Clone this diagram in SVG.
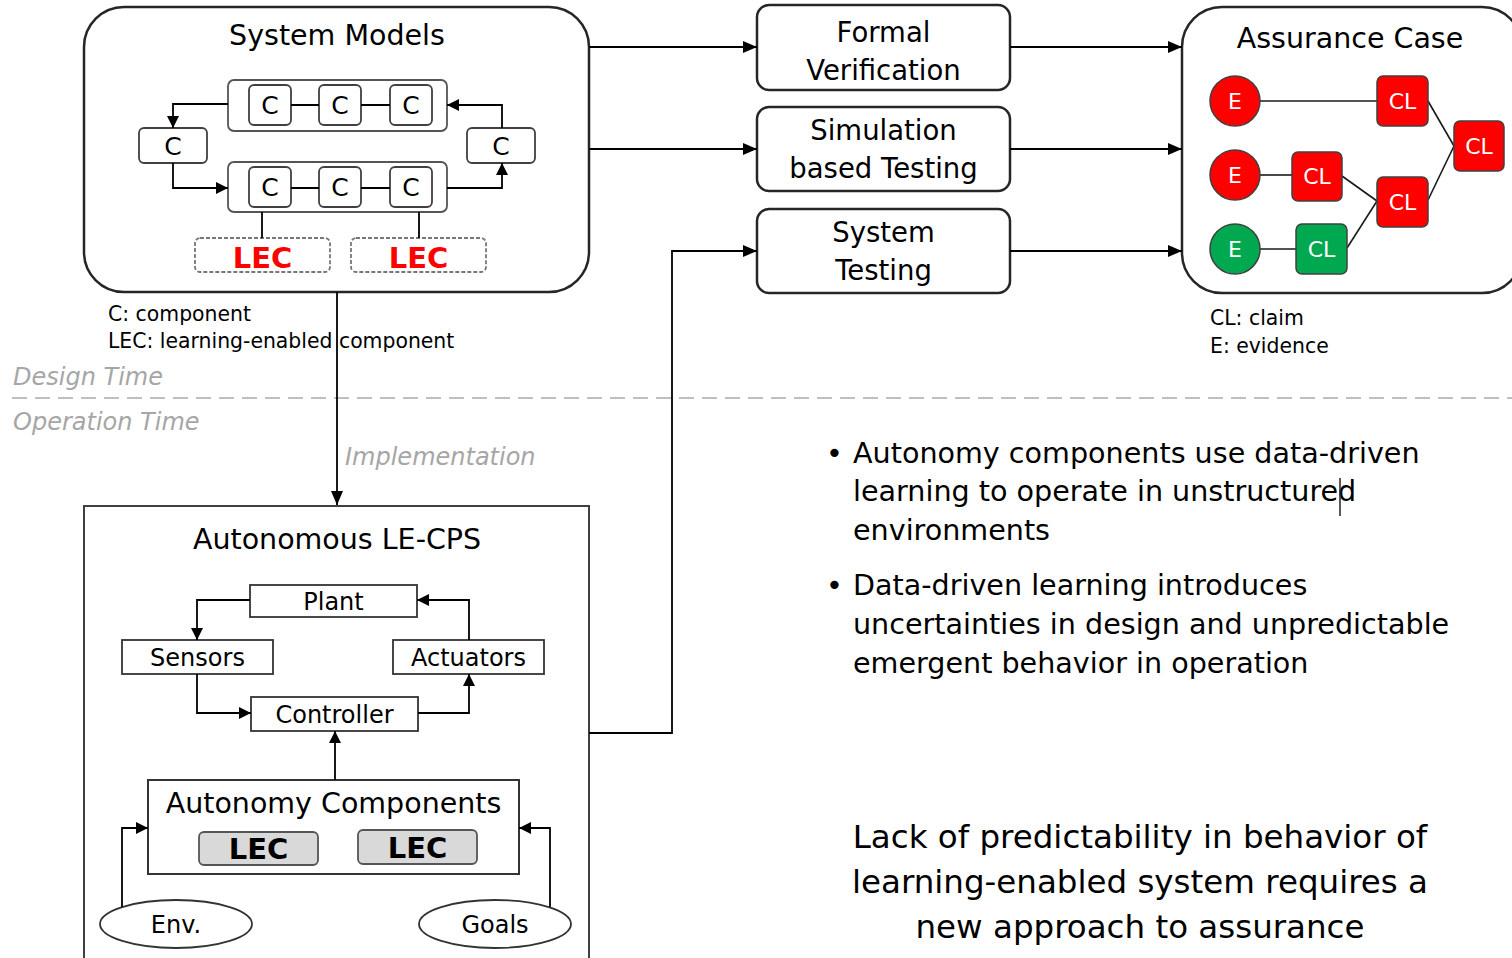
<svg xmlns="http://www.w3.org/2000/svg" width="1512" height="958" viewBox="0 0 1512 958">
<defs>
<marker id="arr" viewBox="0 0 14 12" refX="14" refY="6" markerWidth="14" markerHeight="12" markerUnits="userSpaceOnUse" orient="auto"><path d="M0,0 L14,6 L0,12 z" fill="#000"/></marker>
<marker id="arrs" viewBox="0 0 12 12" refX="12" refY="6" markerWidth="12" markerHeight="12" markerUnits="userSpaceOnUse" orient="auto"><path d="M0,0 L12,6 L0,12 z" fill="#000"/></marker>
</defs>
<style>
text{font-family:"DejaVu Sans","Liberation Sans",sans-serif;fill:#000}
.t{font-size:28.5px;text-anchor:middle}
.bt{font-size:27.5px;text-anchor:middle}
.c{font-size:25px;text-anchor:middle}
.lecr{font-size:29px;font-weight:bold;fill:#FF0000;text-anchor:middle}
.lecb{font-size:29px;font-weight:bold;text-anchor:middle}
.cl{font-size:22px;fill:#fff;text-anchor:middle}
.leg{font-size:20.4px}
.gi{font-size:24px;font-style:italic;fill:#A6A6A6}
.n{font-size:24px;text-anchor:middle}
.big{font-size:28.6px}
.bot{font-size:32.5px;text-anchor:middle}
.frame{fill:#fff;stroke:#262626;stroke-width:2.5}
.cbox{fill:#fff;stroke:#404040;stroke-width:1.8}
.grp{fill:#fff;stroke:#555;stroke-width:1.8}
.dash{fill:#fff;stroke:#777;stroke-width:1.8;stroke-dasharray:4 2}
.sq{fill:#fff;stroke:#333;stroke-width:1.8}
.red{fill:#FF0000;stroke:#404040;stroke-width:1.5}
.grn{fill:#00A84F;stroke:#404040;stroke-width:1.5}
.ln{fill:none;stroke:#000;stroke-width:1.8}
.lnt{fill:none;stroke:#1a1a1a;stroke-width:1.6}
</style>
<rect width="1512" height="958" fill="#fff"/>

<!-- separator -->
<g id="separator">
<line x1="12" y1="398" x2="1512" y2="398" stroke="#BFBFBF" stroke-width="2" stroke-dasharray="15 8"/>
<text class="gi" x="13" y="385">Design Time</text>
<text class="gi" x="13" y="430">Operation Time</text>
<text class="gi" x="345" y="465">Implementation</text>
</g>

<!-- System Models -->
<g id="system-models">
<rect class="frame" x="84" y="7" width="505" height="285" rx="40"/>
<text class="t" x="337" y="45">System Models</text>
<rect class="grp" x="228" y="80" width="219" height="51" rx="6"/>
<rect class="grp" x="228" y="162" width="219" height="50" rx="6"/>
<rect class="cbox" x="249" y="85" width="42" height="40" rx="5"/>
<rect class="cbox" x="319" y="85" width="42" height="40" rx="5"/>
<rect class="cbox" x="390" y="85" width="42" height="40" rx="5"/>
<rect class="cbox" x="249" y="167" width="42" height="40" rx="5"/>
<rect class="cbox" x="319" y="167" width="42" height="40" rx="5"/>
<rect class="cbox" x="390" y="167" width="42" height="40" rx="5"/>
<rect class="cbox" x="139" y="128" width="68" height="35" rx="5"/>
<rect class="cbox" x="467" y="128" width="68" height="35" rx="5"/>
<text class="c" x="270" y="114">C</text>
<text class="c" x="340" y="114">C</text>
<text class="c" x="411" y="114">C</text>
<text class="c" x="270" y="196">C</text>
<text class="c" x="340" y="196">C</text>
<text class="c" x="411" y="196">C</text>
<text class="c" x="173" y="155">C</text>
<text class="c" x="501" y="155">C</text>
<rect class="dash" x="195" y="238" width="135" height="34" rx="5"/>
<rect class="dash" x="351" y="238" width="135" height="34" rx="5"/>
<text class="lecr" x="262.5" y="268">LEC</text>
<text class="lecr" x="418.5" y="268">LEC</text>
</g>
<g id="legend-models">
<text class="leg" x="108" y="321">C: component</text>
<text class="leg" x="108" y="348">LEC: learning-enabled component</text>
</g>

<!-- process boxes -->
<g id="formal-verification">
<rect class="frame" x="757" y="5" width="253" height="85" rx="12"/>
<text class="bt" x="883.5" y="42">Formal</text>
<text class="bt" x="883.5" y="80">Verification</text>
</g>
<g id="simulation-testing">
<rect class="frame" x="757" y="107" width="253" height="84" rx="12"/>
<text class="bt" x="883.5" y="140">Simulation</text>
<text class="bt" x="883.5" y="178">based Testing</text>
</g>
<g id="system-testing">
<rect class="frame" x="757" y="209" width="253" height="84" rx="12"/>
<text class="bt" x="883.5" y="242">System</text>
<text class="bt" x="883.5" y="280">Testing</text>
</g>

<!-- Assurance Case -->
<g id="assurance-case">
<rect class="frame" x="1182" y="7" width="340" height="286" rx="40"/>
<text class="t" x="1350" y="48">Assurance Case</text>
<g class="lnt">
<path d="M1260,101 H1377"/>
<path d="M1428,101 L1454,146"/>
<path d="M1428,200 L1454,146"/>
<path d="M1260,175 H1292"/>
<path d="M1342,176 L1377,201"/>
<path d="M1260,249 H1296"/>
<path d="M1347,248 L1377,201"/>
</g>
<circle class="red" cx="1235" cy="101" r="25"/>
<circle class="red" cx="1235" cy="175" r="25"/>
<circle class="grn" cx="1235" cy="249" r="25"/>
<rect class="red" x="1377" y="76" width="51" height="50" rx="6"/>
<rect class="red" x="1454" y="121" width="50" height="50" rx="6"/>
<rect class="red" x="1292" y="152" width="50" height="49" rx="6"/>
<rect class="red" x="1377" y="177" width="51" height="50" rx="6"/>
<rect class="grn" x="1296" y="224" width="51" height="50" rx="6"/>
<text class="cl" x="1235" y="109">E</text>
<text class="cl" x="1235" y="183">E</text>
<text class="cl" x="1235" y="257">E</text>
<text class="cl" x="1402.5" y="109">CL</text>
<text class="cl" x="1479" y="154">CL</text>
<text class="cl" x="1317" y="184">CL</text>
<text class="cl" x="1402.5" y="210">CL</text>
<text class="cl" x="1321.5" y="257">CL</text>
</g>
<g id="legend-assurance">
<text class="leg" x="1210" y="325">CL: claim</text>
<text class="leg" x="1210" y="353">E: evidence</text>
</g>

<!-- Autonomous LE-CPS -->
<g id="le-cps">
<rect x="84" y="506" width="505" height="470" fill="#fff" stroke="#404040" stroke-width="2"/>
<text class="t" x="337" y="549">Autonomous LE-CPS</text>
</g>
<g id="plant"><rect class="sq" x="250" y="585" width="167" height="32"/><text class="n" x="333.5" y="610">Plant</text></g>
<g id="sensors"><rect class="sq" x="122" y="640" width="151" height="34"/><text class="n" x="197.5" y="666">Sensors</text></g>
<g id="actuators"><rect class="sq" x="393" y="640" width="151" height="34"/><text class="n" x="468.5" y="666">Actuators</text></g>
<g id="controller"><rect class="sq" x="251" y="697" width="167" height="34"/><text class="n" x="334.5" y="723">Controller</text></g>
<g id="autonomy-components">
<rect x="148" y="780" width="371" height="94" fill="#fff" stroke="#333" stroke-width="2"/>
<text class="t" x="333.5" y="813">Autonomy Components</text>
<rect x="199" y="832" width="119" height="33" rx="5" fill="#D9D9D9" stroke="#555" stroke-width="1.8"/>
<rect x="358" y="830" width="119" height="34" rx="5" fill="#D9D9D9" stroke="#555" stroke-width="1.8"/>
<text class="lecb" x="258.5" y="859">LEC</text>
<text class="lecb" x="417.5" y="858">LEC</text>
</g>
<g id="env"><ellipse cx="176" cy="924" rx="76" ry="24" fill="#fff" stroke="#333" stroke-width="1.8"/><text class="n" x="176" y="933">Env.</text></g>
<g id="goals"><ellipse cx="495" cy="924" rx="76" ry="24" fill="#fff" stroke="#333" stroke-width="1.8"/><text class="n" x="495" y="933">Goals</text></g>

<!-- connectors -->
<g id="connectors" class="ln">
<path d="M589,47 H757" marker-end="url(#arr)"/>
<path d="M589,149 H757" marker-end="url(#arr)"/>
<path d="M589,733 H672 V251 H757" marker-end="url(#arr)"/>
<path d="M1010,47 H1182" marker-end="url(#arr)"/>
<path d="M1010,149 H1182" marker-end="url(#arr)"/>
<path d="M1010,251 H1182" marker-end="url(#arr)"/>
<path d="M337,292 V505" marker-end="url(#arr)"/>
<path d="M291,105 H319 M361,105 H390 M291,188 H319 M361,188 H390"/>
<path d="M262,212 V238 M419,212 V238"/>
<path d="M228,104 H173 V128" marker-end="url(#arrs)"/>
<path d="M173,163 V188 H228" marker-end="url(#arrs)"/>
<path d="M447,188 H502 V163" marker-end="url(#arrs)"/>
<path d="M502,128 V105 H447" marker-end="url(#arrs)"/>
<path d="M250,600 H197 V640" marker-end="url(#arrs)"/>
<path d="M197,674 V713 H251" marker-end="url(#arrs)"/>
<path d="M418,713 H469 V674" marker-end="url(#arrs)"/>
<path d="M469,640 V600 H417" marker-end="url(#arrs)"/>
<path d="M335,780 V731" marker-end="url(#arrs)"/>
<path d="M122,907 V828 H148" marker-end="url(#arrs)"/>
<path d="M550,907 V828 H519" marker-end="url(#arrs)"/>
</g>

<!-- text -->
<g id="bullets">
<text class="big" x="826" y="463">•</text>
<text class="big" x="853" y="463">Autonomy components use data-driven</text>
<text class="big" x="853" y="501">learning to operate in unstructured</text>
<text class="big" x="853" y="540">environments</text>
<line x1="1340" y1="478" x2="1340" y2="516" stroke="#222" stroke-width="1.5"/>
<text class="big" x="826" y="595">•</text>
<text class="big" x="853" y="595">Data-driven learning introduces</text>
<text class="big" x="853" y="634">uncertainties in design and unpredictable</text>
<text class="big" x="853" y="673">emergent behavior in operation</text>
</g>
<g id="conclusion">
<text class="bot" x="1140" y="848">Lack of predictability in behavior of</text>
<text class="bot" x="1140" y="893">learning-enabled system requires a</text>
<text class="bot" x="1140" y="938">new approach to assurance</text>
</g>
</svg>
